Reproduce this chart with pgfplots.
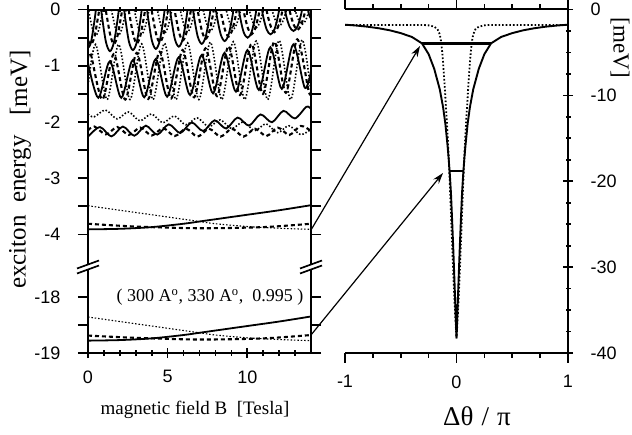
\documentclass[border=0pt]{standalone}
\usepackage{fontspec}
\setmainfont{Liberation Serif}
\setsansfont{Liberation Sans}
\usepackage{pgfplots}
\pgfplotsset{compat=1.18}
\usetikzlibrary{arrows.meta}

\pgfplotsset{
  panel/.style={
    scale only axis, anchor=south west,
    tick align=outside,
    axis line style={line width=2pt},
    every tick/.style={black, line width=1.7pt},
    major tick length=10pt, minor tick length=5pt,
    tick label style={font=\fontsize{18}{18}\sffamily},
    yticklabel style={xshift=-14pt},
    xticklabel style={yshift=-9pt},
  },
  noarr/.style={
    every outer x axis line/.append style={-},
    every outer y axis line/.append style={-},
    every inner x axis line/.append style={-},
    every inner y axis line/.append style={-},
  },
  sol/.style={black, line width=1.8pt, smooth, no markers},
  dot/.style={black, line width=1.6pt, dash pattern=on 1.5pt off 1.9pt, smooth, no markers},
  dsh/.style={black, line width=2.1pt, dash pattern=on 4pt off 3pt, smooth, no markers},
}

\begin{document}
\begin{tikzpicture}

% upper part of the left panel
\begin{axis}[panel, at={(88pt,168.1pt)}, width=223pt, height=256.3pt,
  xmin=0, xmax=14, ymin=-4.56, ymax=0,
  axis x line=top, axis y line=box, noarr,
  xtick={0,5,10}, minor xtick={1,2,3,4,6,7,8,9,11,12,13}, xticklabels={},
  ytick={-4,-3.5,-3,-2.5,-2,-1.5,-1,-0.5,0},
  yticklabels={-4,,-3,,-2,,-1,,0}, yticklabel pos=left]
% solid, upper branch
\addplot[sol] coordinates {(0,-0.68) (0.19,-0.58) (0.44,-0.13) (0.66,0.35)
 (0.88,-0.13) (1.13,-0.58) (1.38,-0.74) (1.63,-0.58) (1.88,-0.13) (2.10,0.35)
 (2.32,-0.12) (2.57,-0.57) (2.82,-0.72) (3.07,-0.57) (3.32,-0.12) (3.54,0.35)
 (3.76,-0.12) (4.01,-0.55) (4.26,-0.70) (4.51,-0.55) (4.76,-0.12) (4.98,0.35)
 (5.20,-0.11) (5.45,-0.52) (5.70,-0.66) (5.95,-0.52) (6.20,-0.11) (6.42,0.35)
 (6.64,-0.10) (6.89,-0.48) (7.14,-0.61) (7.39,-0.48) (7.64,-0.10) (7.86,0.35)
 (8.08,-0.10) (8.33,-0.44) (8.58,-0.56) (8.83,-0.44) (9.08,-0.10) (9.30,0.35)
 (9.52,-0.09) (9.77,-0.40) (10.02,-0.50) (10.27,-0.40) (10.52,-0.09) (10.74,0.35)
 (10.96,-0.07) (11.21,-0.35) (11.46,-0.44) (11.71,-0.35) (11.96,-0.07) (12.18,0.35)
 (12.40,-0.06) (12.65,-0.30) (12.90,-0.38) (13.15,-0.30) (13.40,-0.06) (13.62,0.35)
 (13.84,-0.05) (14,-0.16)};
% solid, lower branch
\addplot[sol] coordinates {(0,-0.95) (0.65,-1.57) (1.37,-0.92) (2.09,-1.57) (2.81,-0.90)
 (3.53,-1.56) (4.25,-0.88) (4.97,-1.55) (5.69,-0.85) (6.41,-1.52) (7.13,-0.81)
 (7.85,-1.49) (8.57,-0.77) (9.29,-1.46) (10.01,-0.72) (10.73,-1.43) (11.45,-0.67)
 (12.17,-1.41) (12.89,-0.62) (13.61,-1.39) (14,-1.10)};
% dotted, upper branch
\addplot[dot] coordinates {(0,0.1) (0.09,-0.09) (0.29,-0.35) (0.49,-0.46) (0.69,-0.35) (0.89,-0.09) (1.21,0.3)
 (1.53,-0.09) (1.73,-0.34) (1.93,-0.45) (2.13,-0.34) (2.33,-0.09) (2.65,0.3)
 (2.97,-0.09) (3.17,-0.33) (3.37,-0.44) (3.57,-0.33) (3.77,-0.09) (4.09,0.3)
 (4.41,-0.08) (4.61,-0.32) (4.81,-0.42) (5.01,-0.32) (5.21,-0.08) (5.53,0.3)
 (5.85,-0.08) (6.05,-0.30) (6.25,-0.40) (6.45,-0.30) (6.65,-0.08) (6.97,0.3)
 (7.29,-0.08) (7.49,-0.29) (7.69,-0.38) (7.89,-0.29) (8.09,-0.08) (8.41,0.3)
 (8.73,-0.07) (8.93,-0.26) (9.13,-0.35) (9.33,-0.26) (9.53,-0.07) (9.85,0.3)
 (10.17,-0.06) (10.37,-0.24) (10.57,-0.32) (10.77,-0.24) (10.97,-0.06) (11.29,0.3)
 (11.61,-0.06) (11.81,-0.22) (12.01,-0.29) (12.21,-0.22) (12.41,-0.06) (12.73,0.3)
 (13.05,-0.05) (13.25,-0.20) (13.45,-0.26) (13.65,-0.20) (13.85,-0.05) (14,0.1)};
% dotted, lower branch
\addplot[dot] coordinates {(0,-1.35) (0.48,-0.62) (1.20,-1.60) (1.92,-0.62) (2.64,-1.60)
 (3.36,-0.61) (4.08,-1.60) (4.80,-0.60) (5.52,-1.60) (6.24,-0.59) (6.96,-1.60)
 (7.68,-0.58) (8.40,-1.60) (9.12,-0.57) (9.84,-1.60) (10.56,-0.56) (11.28,-1.60)
 (12.00,-0.55) (12.72,-1.60) (13.44,-0.54) (14,-1.48)};
% dashed, upper branch
\addplot[dsh] coordinates {(0,-0.55) (0.19,-0.62) (0.41,-0.48) (0.64,-0.12) (0.91,0.3)
 (1.18,-0.12) (1.41,-0.47) (1.63,-0.61) (1.85,-0.47) (2.08,-0.12) (2.35,0.3)
 (2.62,-0.12) (2.85,-0.46) (3.07,-0.60) (3.29,-0.46) (3.52,-0.12) (3.79,0.3)
 (4.06,-0.12) (4.29,-0.45) (4.51,-0.58) (4.73,-0.45) (4.96,-0.12) (5.23,0.3)
 (5.50,-0.11) (5.73,-0.42) (5.95,-0.55) (6.17,-0.42) (6.40,-0.11) (6.67,0.3)
 (6.94,-0.10) (7.17,-0.40) (7.39,-0.52) (7.61,-0.40) (7.84,-0.10) (8.11,0.3)
 (8.38,-0.10) (8.61,-0.37) (8.83,-0.48) (9.05,-0.37) (9.28,-0.10) (9.55,0.3)
 (9.82,-0.09) (10.05,-0.34) (10.27,-0.44) (10.49,-0.34) (10.72,-0.09) (10.99,0.3)
 (11.26,-0.08) (11.49,-0.31) (11.71,-0.40) (11.93,-0.31) (12.16,-0.08) (12.43,0.3)
 (12.70,-0.07) (12.93,-0.28) (13.15,-0.36) (13.37,-0.28) (13.60,-0.07) (13.87,0.3) (14,0.05)};
% dashed, lower branch
\addplot[dsh] coordinates {(0,-0.86) (0.18,-0.80) (0.90,-1.60) (1.62,-0.79) (2.34,-1.60)
 (3.06,-0.77) (3.78,-1.59) (4.50,-0.75) (5.22,-1.58) (5.94,-0.72) (6.66,-1.56)
 (7.38,-0.69) (8.10,-1.54) (8.82,-0.65) (9.54,-1.52) (10.26,-0.61) (10.98,-1.50)
 (11.70,-0.57) (12.42,-1.48) (13.14,-0.53) (13.86,-1.46) (14,-1.42)};
% level near -2 meV
\addplot[sol] coordinates {(0,-2.26) (0.75,-2.09) (1.47,-2.256) (2.19,-2.081) (2.91,-2.244)
 (3.63,-2.065) (4.35,-2.224) (5.07,-2.041) (5.79,-2.196) (6.51,-2.009) (7.23,-2.160)
 (7.95,-1.969) (8.67,-2.116) (9.39,-1.921) (10.11,-2.064) (10.83,-1.865) (11.55,-2.004)
 (12.27,-1.801) (12.99,-1.936) (13.71,-1.729) (14,-1.77)};
\addplot[dot] coordinates {(0,-1.86) (0.38,-1.909) (1.10,-1.787) (1.82,-1.944) (2.54,-1.822)
 (3.26,-1.979) (3.98,-1.857) (4.70,-2.014) (5.42,-1.892) (6.14,-2.049) (6.86,-1.927)
 (7.58,-2.084) (8.30,-1.962) (9.02,-2.119) (9.74,-1.997) (10.46,-2.154) (11.18,-2.032)
 (11.90,-2.189) (12.62,-2.067) (13.34,-2.224) (14,-2.13)};
\addplot[dsh] coordinates {(0,-2.15) (0.40,-2.08) (1.12,-2.22) (1.84,-2.09) (2.56,-2.23)
 (3.28,-2.10) (4.0,-2.24) (4.72,-2.11) (5.44,-2.25) (6.16,-2.12) (6.88,-2.26)
 (7.60,-2.12) (8.32,-2.26) (9.04,-2.12) (9.76,-2.26) (10.48,-2.12) (11.2,-2.25)
 (11.92,-2.10) (12.64,-2.23) (13.36,-2.07) (14,-2.16)};
% level near -4 meV
\addplot[sol] coordinates {(0,-3.91) (2,-3.90) (4,-3.87) (6,-3.81) (7,-3.77) (8,-3.73) (10,-3.65) (12,-3.57) (14,-3.48)};
\addplot[dot, line width=1.1pt] coordinates {(0,-3.49) (2,-3.57) (4,-3.65) (6,-3.73) (7,-3.77) (8,-3.81) (10,-3.86) (12,-3.89) (14,-3.91)};
\addplot[dsh] coordinates {(0,-3.81) (3,-3.86) (7,-3.89) (11,-3.87) (14,-3.81)};
\end{axis}

% lower part of the left panel
\begin{axis}[panel, at={(88pt,81pt)}, width=223pt, height=87.1pt,
  xmin=0, xmax=14, ymin=-19, ymax=-17.45,
  axis x line=bottom, axis y line=box, noarr,
  xtick={0,5,10}, minor xtick={1,2,3,4,6,7,8,9,11,12,13}, xticklabels={0,5,10},
  ytick={-19,-18.5,-18}, yticklabels={-19,,-18}, yticklabel pos=left]
\addplot[sol] coordinates {(0,-18.78) (2,-18.77) (4,-18.74) (6,-18.68) (7,-18.64) (8,-18.60) (10,-18.52) (12,-18.44) (14,-18.35)};
\addplot[dot, line width=1.1pt] coordinates {(0,-18.36) (2,-18.44) (4,-18.52) (6,-18.60) (7,-18.64) (8,-18.68) (10,-18.73) (12,-18.76) (14,-18.78)};
\addplot[dsh] coordinates {(0,-18.69) (3,-18.73) (7,-18.76) (11,-18.74) (14,-18.68)};
\end{axis}

% right panel
\begin{axis}[panel, at={(345pt,81pt)}, width=223pt, height=343.5pt,
  xmin=-1, xmax=1, ymin=-40, ymax=0,
  axis x line=box, axis y line=right, noarr,
  yticklabel style={xshift=28pt},
  xtick={-1,0,1}, xticklabels={-1,0,1},
  minor xtick={-0.75,-0.5,-0.25,0.25,0.5,0.75},
  ytick={-40,-30,-20,-10,0}, yticklabels={-40,-30,-20,-10,0},
  minor ytick={-37.5,-35,-32.5,-27.5,-25,-22.5,-17.5,-15,-12.5,-7.5,-5,-2.5}]
\addplot[black, line width=1.9pt] coordinates {(-1,-1.77) (-0.9,-1.87) (-0.8,-2.0) (-0.7,-2.18)
 (-0.6,-2.42) (-0.5,-2.75) (-0.4,-3.2) (-0.31,-3.94) (-0.25,-5.2) (-0.2,-6.9) (-0.15,-9.3)
 (-0.12,-11.4) (-0.1,-13.3) (-0.08,-15.9) (-0.07,-17.4) (-0.06,-19.2) (-0.05,-21.3)
 (-0.04,-24.3) (-0.03,-27.5) (-0.02,-31.0) (-0.01,-34.6) (0,-38.3)
 (0.01,-34.6) (0.02,-31.0) (0.03,-27.5) (0.04,-24.3) (0.05,-21.3) (0.06,-19.2)
 (0.07,-17.4) (0.08,-15.9) (0.1,-13.3) (0.12,-11.4) (0.15,-9.3) (0.2,-6.9) (0.25,-5.2)
 (0.31,-3.94) (0.4,-3.2) (0.5,-2.75) (0.6,-2.42) (0.7,-2.18) (0.8,-2.0) (0.9,-1.87) (1,-1.77)};
\addplot[black, line width=1.8pt, dash pattern=on 1.6pt off 2pt] coordinates {(-1,-1.8) (-0.3,-1.8) (-0.25,-1.85)
 (-0.2,-2.0) (-0.17,-2.3) (-0.15,-2.9) (-0.14,-3.6) (-0.13,-4.7) (-0.12,-6.2) (-0.11,-8.1)
 (-0.1,-10.2) (-0.09,-12.3) (-0.08,-14.6) (-0.07,-17.2) (-0.06,-20.3) (-0.05,-23.6)
 (-0.04,-27.0) (-0.03,-30.3) (-0.02,-33.4) (-0.01,-36.0) (0,-38.3)
 (0.01,-36.0) (0.02,-33.4) (0.03,-30.3) (0.04,-27.0) (0.05,-23.6) (0.06,-20.3)
 (0.07,-17.2) (0.08,-14.6) (0.09,-12.3) (0.1,-10.2) (0.11,-8.1) (0.12,-6.2) (0.13,-4.7)
 (0.14,-3.6) (0.15,-2.9) (0.17,-2.3) (0.2,-2.0) (0.25,-1.85) (0.3,-1.8) (1,-1.8)};
\addplot[black, line width=2.6pt] coordinates {(-0.31,-3.94) (0.31,-3.94)};
\addplot[black, line width=2.6pt] coordinates {(-0.062,-18.8) (0.062,-18.8)};
\end{axis}

\begin{scope}[x=1pt, y=1pt]
% axis breaks
\foreach \bx in {88,311} {
  \fill[white] (\bx-11,160.5) -- (\bx+11,168.5) -- (\bx+11,173.5) -- (\bx-11,165.5) -- cycle;
  \draw[line width=1.7pt] (\bx-11,160.5) -- (\bx+11,168.5);
  \draw[line width=1.7pt] (\bx-11,165.5) -- (\bx+11,173.5);
}

% arrows
\draw[line width=1.2pt, -{Stealth[length=11pt, width=7pt]}] (311,204) -- (420,388);
\draw[line width=1.2pt, -{Stealth[length=11pt, width=7pt]}] (311,99) -- (443,261);

% labels
\node[rotate=90, font=\fontsize{25}{25}\selectfont] at (20,222) {exciton\ \ energy};
\node[rotate=90, font=\fontsize{25}{25}\selectfont] at (20,351) {[meV]};
\node[rotate=-90, font=\fontsize{23}{23}\selectfont] at (620,386) {[meV]};
\node[font=\fontsize{19}{19}\selectfont] at (195,24) {magnetic field B\ \ [Tesla]};
\node[font=\fontsize{27}{27}\selectfont] at (477,18) {Δθ\hspace{0.3em}/\hspace{0.3em}π};
\node[font=\fontsize{18}{18}\selectfont] at (210,137) {( 300 A\textsuperscript{o}, 330 A\textsuperscript{o},\ \ 0.995 )};

\pgfresetboundingbox
\useasboundingbox (0,0) rectangle (632,434);
\end{scope}
\end{tikzpicture}
\end{document}
